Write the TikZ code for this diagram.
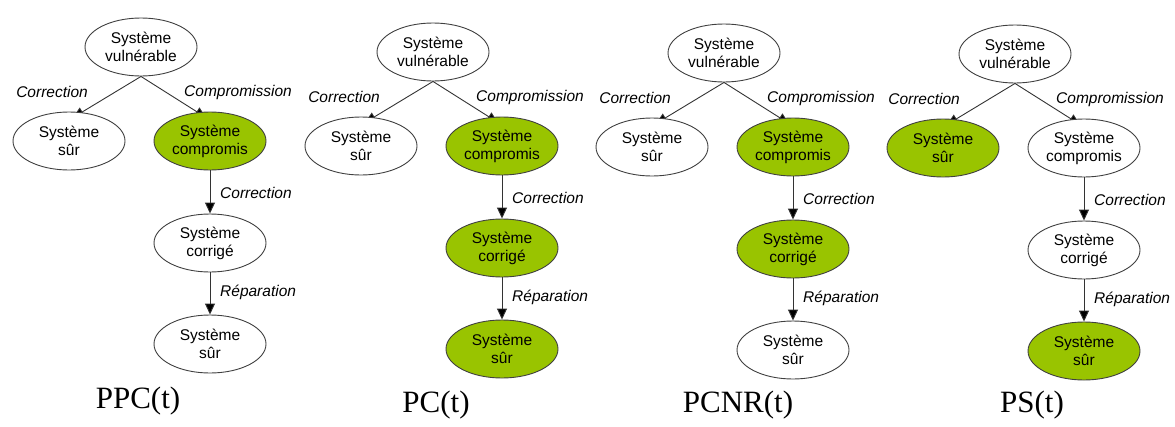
\documentclass[tikz,border=0pt]{standalone}
\usepackage{fontspec}
\setmainfont{Liberation Serif}
\setsansfont{Liberation Sans}
\usetikzlibrary{shapes.geometric,arrows.meta,backgrounds}
\definecolor{vert}{RGB}{153,196,0}
\tikzset{
  etat/.style={ellipse, draw=black!75, line width=0.9pt, minimum width=112pt,
    minimum height=58pt, inner sep=0pt, align=center,
    font=\sffamily\fontsize{15.5}{18}\selectfont},
  libre/.style={etat, fill=white},
  atteint/.style={etat, fill=vert},
  trans/.style={-{Triangle[width=10pt,length=11pt,fill=black]}, draw=black!80, line width=0.9pt},
  lbl/.style={inner sep=0pt, font=\sffamily\itshape\fontsize{15.5}{18}\selectfont},
  titre/.style={inner sep=0pt, anchor=base, font=\fontsize{31}{34}\selectfont}
}
\begin{document}
\begin{tikzpicture}[x=1pt,y=-1pt]
  \useasboundingbox (0,0) rectangle (1175,426);
  % PPC(t)
  \begin{scope}[xshift=210pt,yshift=5pt]
    \draw
      (-69,52) node[libre] (va){Système\\vulnérable}
      (-141,146) node[libre] (sa){Système\\sûr}
      (0,146) node[atteint] (ca){Système\\compromis}
      (0,248) node[libre] (ka){Système\\corrigé}
      (0,349) node[libre] (fa){Système\\sûr}
      (-122,97) node[lbl,anchor=east] (cora){Correction}
      (-26,97) node[lbl,anchor=west] (coma){Compromission}
      (10,198) node[lbl,anchor=west] (corra){Correction}
      (10,297) node[lbl,anchor=west] (repa){Réparation}
      (-72,413) node[titre] (ta){PPC(t)};
    \begin{pgfonlayer}{background}
      \draw[trans] (va.south) to ([xshift=4pt,yshift=-6pt]sa.north);
      \draw[trans] (va.south) to ([xshift=-4pt,yshift=-6pt]ca.north);
    \end{pgfonlayer}
    \draw[trans] (ca) to (ka);
    \draw[trans] (ka) to (fa);
  \end{scope}
  % PC(t)
  \begin{scope}[xshift=502pt]
    \draw
      (-69,52) node[libre] (vb){Système\\vulnérable}
      (-141,146) node[libre] (sb){Système\\sûr}
      (0,146) node[atteint] (cb){Système\\compromis}
      (0,248) node[atteint] (kb){Système\\corrigé}
      (0,349) node[atteint] (fb){Système\\sûr}
      (-122,97) node[lbl,anchor=east] (corb){Correction}
      (-26,97) node[lbl,anchor=west] (comb){Compromission}
      (10,198) node[lbl,anchor=west] (corrb){Correction}
      (10,297) node[lbl,anchor=west] (repb){Réparation}
      (-66,412) node[titre] (tb){PC(t)};
    \begin{pgfonlayer}{background}
      \draw[trans] (vb.south) to ([xshift=4pt,yshift=-6pt]sb.north);
      \draw[trans] (vb.south) to ([xshift=-4pt,yshift=-6pt]cb.north);
    \end{pgfonlayer}
    \draw[trans] (cb) to (kb);
    \draw[trans] (kb) to (fb);
  \end{scope}
  % PCNR(t)
  \begin{scope}[xshift=793pt,yshift=-1pt]
    \draw
      (-69,52) node[libre] (vc){Système\\vulnérable}
      (-141,146) node[libre] (sc){Système\\sûr}
      (0,146) node[atteint] (cc){Système\\compromis}
      (0,248) node[atteint] (kc){Système\\corrigé}
      (0,349) node[libre] (fc){Système\\sûr}
      (-122,97) node[lbl,anchor=east] (corc){Correction}
      (-26,97) node[lbl,anchor=west] (comc){Compromission}
      (10,198) node[lbl,anchor=west] (corrc){Correction}
      (10,297) node[lbl,anchor=west] (repc){Réparation}
      (-55,411) node[titre] (tc){PCNR(t)};
    \begin{pgfonlayer}{background}
      \draw[trans] (vc.south) to ([xshift=4pt,yshift=-6pt]sc.north);
      \draw[trans] (vc.south) to ([xshift=-4pt,yshift=-6pt]cc.north);
    \end{pgfonlayer}
    \draw[trans] (cc) to (kc);
    \draw[trans] (kc) to (fc);
  \end{scope}
  % PS(t)
  \begin{scope}[xshift=1084pt,yshift=-2pt]
    \draw
      (-69,52) node[libre] (vd){Système\\vulnérable}
      (-141,146) node[atteint] (sd){Système\\sûr}
      (0,146) node[libre] (cd){Système\\compromis}
      (0,248) node[libre] (kd){Système\\corrigé}
      (0,349) node[atteint] (fd){Système\\sûr}
      (-124,97) node[lbl,anchor=east] (cord){Correction}
      (-28,97) node[lbl,anchor=west] (comd){Compromission}
      (10,198) node[lbl,anchor=west] (corrd){Correction}
      (10,297) node[lbl,anchor=west] (repd){Réparation}
      (-52,410) node[titre] (td){PS(t)};
    \begin{pgfonlayer}{background}
      \draw[trans] (vd.south) to ([xshift=4pt,yshift=-6pt]sd.north);
      \draw[trans] (vd.south) to ([xshift=-4pt,yshift=-6pt]cd.north);
    \end{pgfonlayer}
    \draw[trans] (cd) to (kd);
    \draw[trans] (kd) to (fd);
  \end{scope}
\end{tikzpicture}
\end{document}
